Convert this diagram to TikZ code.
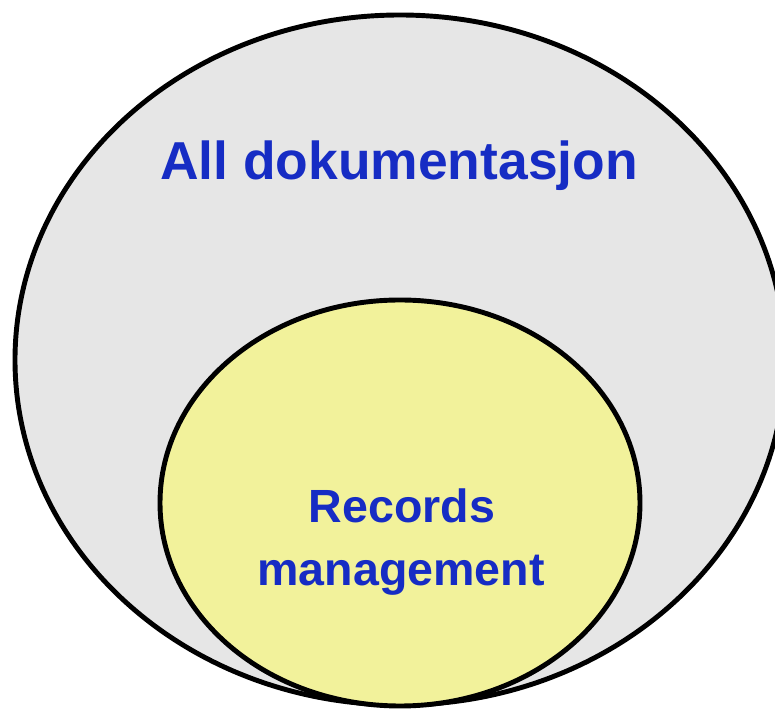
\documentclass[tikz,border=0pt]{standalone}
\usepackage{fontspec}
\setmainfont{Liberation Sans}
\definecolor{allgray}{RGB}{230,230,230}
\definecolor{recyellow}{RGB}{242,242,155}
\definecolor{textblue}{RGB}{22,44,196}
\tikzset{
  setline/.style={line width=2.8pt, draw=black},
  setlabel/.style={text=textblue, font=\fontsize{30.4}{36}\selectfont\bfseries, inner sep=0pt, anchor=base},
  sublabel/.style={setlabel, font=\fontsize{26.5}{32}\selectfont\bfseries}
}
\begin{document}
\begin{tikzpicture}[x=0.02cm, y=-0.02cm]
    \useasboundingbox (0,0) rectangle (775,715);
    \clip (0,0) rectangle (775,715);
    \fill[white] (0,0) rectangle (775,715);
    % Ytre mengde
    \draw[setline, fill=allgray] (400,360) ellipse (385 and 345);
    % Indre mengde
    \draw[setline, fill=recyellow] (400,503) ellipse (240 and 203);
    % Tekst
    \node[setlabel] (alldok) at (399,180) {All dokumentasjon};
    \node[sublabel] (records) at (402,523) {Records};
    \node[sublabel] (mgmt) at (401,586) {management};
\end{tikzpicture}
\end{document}
